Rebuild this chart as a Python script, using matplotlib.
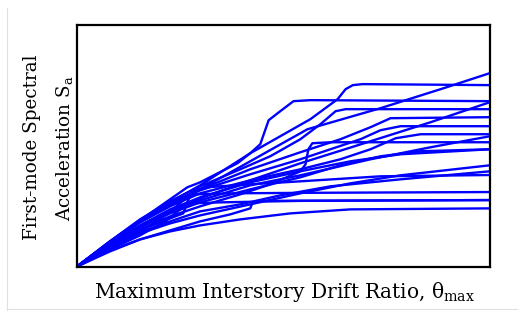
import matplotlib
matplotlib.use("Agg")
import matplotlib.pyplot as plt
from matplotlib.lines import Line2D

# Maximum interstory drift ratio (%) and first-mode spectral acceleration (g) per record
drift_01 = [0, 0.82, 1.57, 2.32, 3.07, 4.07, 5.32, 6.82, 10.3]
sa_01 = [0, 0.15, 0.27, 0.35, 0.41, 0.47, 0.53, 0.57, 0.58]
drift_02 = [0, 0.82, 1.57, 2.32, 3.07, 3.82, 4.32, 4.38, 4.57, 10.3]
sa_02 = [0, 0.16, 0.27, 0.36, 0.45, 0.52, 0.58, 0.64, 0.655, 0.663]
drift_02b = [0, 0.82, 1.57, 2.20, 2.57, 2.82, 3.57, 5.57, 10.3]
sa_02b = [0, 0.17, 0.31, 0.45, 0.57, 0.63, 0.64, 0.655, 0.663]
drift_03 = [0, 0.82, 1.57, 2.07, 2.45, 2.70, 2.95, 3.82, 5.57, 10.3]
sa_03 = [0, 0.19, 0.35, 0.47, 0.59, 0.68, 0.72, 0.73, 0.735, 0.743]
drift_04 = [0, 0.82, 1.57, 2.32, 2.65, 2.75, 2.87, 3.20, 4.32, 5.57, 7.57, 10.3]
sa_04 = [0, 0.20, 0.36, 0.48, 0.53, 0.64, 0.75, 0.79, 0.82, 0.85, 0.90, 0.913]
drift_05 = [0, 0.82, 1.57, 2.32, 3.07, 4.07, 5.07, 6.32, 8.07, 10.3]
sa_05 = [0, 0.20, 0.34, 0.45, 0.55, 0.62, 0.71, 0.80, 0.87, 0.95]
drift_06 = [0, 0.82, 1.57, 2.32, 3.07, 4.32, 5.57, 6.82, 8.07, 10.3]
sa_06 = [0, 0.19, 0.33, 0.43, 0.51, 0.62, 0.73, 0.83, 0.91, 1.01]
drift_07 = [0, 0.82, 1.57, 2.32, 3.07, 4.32, 5.57, 6.82, 8.07, 10.3]
sa_07 = [0, 0.23, 0.41, 0.57, 0.69, 0.84, 0.95, 1.05, 1.12, 1.17]
drift_08 = [0, 0.82, 1.57, 2.32, 3.07, 4.32, 5.57, 6.57, 7.57, 8.57, 10.3]
sa_08 = [0, 0.22, 0.39, 0.53, 0.64, 0.77, 0.89, 1.01, 1.10, 1.15, 1.17]
drift_09 = [0, 0.82, 1.57, 2.32, 3.07, 4.07, 4.82, 5.57, 5.70, 5.77, 5.87, 6.32, 10.3]
sa_09 = [0, 0.21, 0.37, 0.50, 0.60, 0.72, 0.82, 0.95, 1.02, 1.17, 1.23, 1.24, 1.24]
drift_10 = [0, 0.82, 1.57, 2.32, 3.07, 4.32, 5.57, 6.57, 7.32, 7.95, 8.57, 10.3]
sa_10 = [0, 0.24, 0.44, 0.60, 0.73, 0.86, 0.97, 1.07, 1.17, 1.28, 1.32, 1.32]
drift_11 = [0, 0.82, 1.57, 2.32, 3.07, 4.32, 5.57, 7.32, 8.82, 10.3]
sa_11 = [0, 0.22, 0.40, 0.54, 0.66, 0.81, 0.91, 1.07, 1.19, 1.30]
drift_12 = [0, 0.82, 1.57, 2.32, 3.07, 4.32, 5.57, 6.32, 7.07, 7.57, 8.07, 10.3]
sa_12 = [0, 0.24, 0.45, 0.62, 0.76, 0.92, 1.07, 1.17, 1.27, 1.36, 1.40, 1.40]
drift_13 = [0, 0.82, 1.57, 2.32, 3.07, 4.32, 5.57, 6.57, 7.32, 7.82, 10.3]
sa_13 = [0, 0.25, 0.46, 0.63, 0.77, 0.97, 1.14, 1.27, 1.39, 1.48, 1.49]
drift_14 = [0, 0.82, 1.57, 2.32, 3.07, 4.07, 4.82, 5.57, 6.07, 6.45, 6.70, 10.3]
sa_14 = [0, 0.25, 0.47, 0.65, 0.80, 0.97, 1.10, 1.27, 1.42, 1.55, 1.57, 1.57]
drift_15 = [0, 0.82, 1.57, 2.32, 3.07, 4.32, 5.57, 7.32, 8.82, 10.3]
sa_15 = [0, 0.23, 0.40, 0.55, 0.68, 0.86, 1.03, 1.25, 1.44, 1.64]
drift_16 = [0, 0.82, 1.57, 2.32, 2.75, 3.07, 4.00, 4.32, 4.57, 4.78, 5.07, 5.40, 5.82, 10.3]
sa_16 = [0, 0.25, 0.46, 0.67, 0.79, 0.84, 1.03, 1.13, 1.22, 1.46, 1.55, 1.65, 1.66, 1.65]
drift_17 = [0, 0.82, 1.57, 2.32, 3.07, 4.32, 5.07, 5.82, 6.50, 6.70, 6.88, 7.12, 10.3]
sa_17 = [0, 0.24, 0.45, 0.64, 0.81, 1.13, 1.30, 1.47, 1.67, 1.77, 1.81, 1.82, 1.81]
drift_18 = [0, 0.82, 1.57, 2.32, 3.07, 4.32, 5.75, 7.57, 9.15, 10.3]
sa_18 = [0, 0.24, 0.44, 0.61, 0.77, 1.05, 1.37, 1.58, 1.78, 1.93]

records = [
    (drift_01, sa_01), (drift_02, sa_02), (drift_02b, sa_02b), (drift_03, sa_03),
    (drift_04, sa_04), (drift_05, sa_05), (drift_06, sa_06), (drift_07, sa_07),
    (drift_08, sa_08), (drift_09, sa_09), (drift_10, sa_10), (drift_11, sa_11),
    (drift_12, sa_12), (drift_13, sa_13), (drift_14, sa_14), (drift_15, sa_15),
    (drift_16, sa_16), (drift_17, sa_17), (drift_18, sa_18),
]

x_label = "Maximum Interstory Drift Ratio, θ$_{\\mathrm{max}}$"
y_label_1 = "First-mode Spectral"
y_label_2 = "Acceleration S$_{\\mathrm{a}}$"

plt.rcParams["font.family"] = ["DejaVu Serif"]
plt.rcParams["mathtext.fontset"] = "custom"
plt.rcParams["mathtext.rm"] = "DejaVu Serif"

W, H = 518, 311
fig = plt.figure(figsize=(W / 100, H / 100), dpi=100)
ax = fig.add_axes([77 / W, (H - 266.5) / H, 413 / W, 241.5 / H])

for d, s in records:
    ax.plot(d, s, color="#0000FF", lw=1.7, solid_joinstyle="round", solid_capstyle="butt")

ax.set_xlim(0, 10.3)
ax.set_ylim(0, 2.41)
ax.set_xticks([])
ax.set_yticks([])
for sp in ax.spines.values():
    sp.set_linewidth(1.6)
    sp.set_color("black")

fig.text(284 / W, (H - 297.5) / H, x_label, ha="center", va="baseline", fontsize=14.5)
fig.text(37 / W, (H - 147) / H, y_label_1, ha="center", va="baseline", rotation=90,
         rotation_mode="anchor", fontsize=13.2)
fig.text(70 / W, (H - 148) / H, y_label_2, ha="center", va="baseline", rotation=90,
         rotation_mode="anchor", fontsize=13.2)

# light frame lines
fig.add_artist(Line2D([7 / W, 7 / W], [0, (H - 8) / H], color="#e0e0e0", lw=0.8, transform=fig.transFigure))
fig.add_artist(Line2D([7 / W, 1], [(H - 309) / H, (H - 309) / H], color="#e0e0e0", lw=0.8, transform=fig.transFigure))

fig.savefig("out.png", dpi=100)
